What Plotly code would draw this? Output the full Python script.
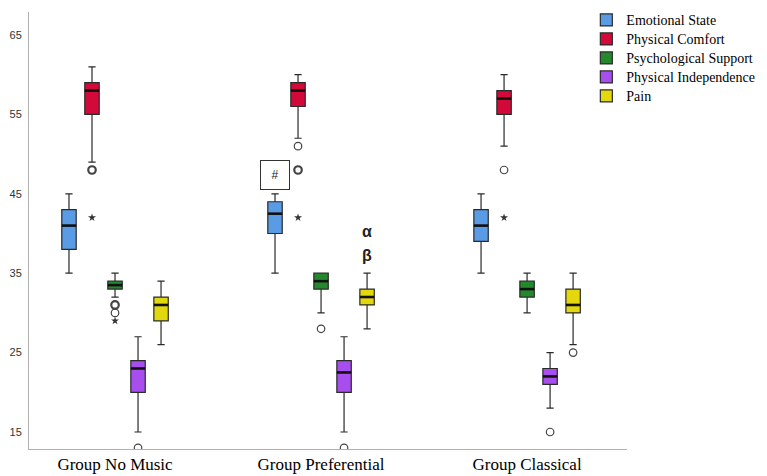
import plotly.graph_objects as go

groups = ["Group No Music", "Group Preferential", "Group Classical"]
series = ["Emotional State", "Physical Comfort", "Psychological Support",
          "Physical Independence", "Pain"]
colors = ["#5A9BE6", "#D3093A", "#24892C", "#A84EEE", "#E3D70E"]

# Emotional State
es_low = [35, 35, 35]
es_q1 = [38, 40, 39]
es_med = [41, 42.5, 41]
es_q3 = [43, 44, 43]
es_high = [45, 45, 45]
es_mild = [[], [], []]
es_extreme = [[], [], []]

# Physical Comfort
pc_low = [49, 52, 51]
pc_q1 = [55, 56, 55]
pc_med = [58, 58, 57]
pc_q3 = [59, 59, 58]
pc_high = [61, 60, 60]
pc_mild = [[48, 48], [51, 48, 48], [48]]
pc_extreme = [[42], [42], [42]]

# Psychological Support
ps_low = [32, 30, 30]
ps_q1 = [33, 33, 32]
ps_med = [33.5, 34, 33]
ps_q3 = [34, 35, 34]
ps_high = [35, 35, 35]
ps_mild = [[31, 31, 30], [28], []]
ps_extreme = [[29], [], []]

# Physical Independence
pi_low = [15, 15, 18]
pi_q1 = [20, 20, 21]
pi_med = [23, 22.5, 22]
pi_q3 = [24, 24, 23]
pi_high = [27, 27, 25]
pi_mild = [[13], [13], [15]]
pi_extreme = [[], [], []]

# Pain
pn_low = [26, 28, 26]
pn_q1 = [29, 31, 30]
pn_med = [31, 32, 31]
pn_q3 = [32, 33, 33]
pn_high = [34, 35, 35]
pn_mild = [[], [], [25]]
pn_extreme = [[], [], []]

y_ticks = [15, 25, 35, 45, 55, 65]

stats = [
    (es_low, es_q1, es_med, es_q3, es_high, es_mild, es_extreme),
    (pc_low, pc_q1, pc_med, pc_q3, pc_high, pc_mild, pc_extreme),
    (ps_low, ps_q1, ps_med, ps_q3, ps_high, ps_mild, ps_extreme),
    (pi_low, pi_q1, pi_med, pi_q3, pi_high, pi_mild, pi_extreme),
    (pn_low, pn_q1, pn_med, pn_q3, pn_high, pn_mild, pn_extreme),
]

step = 0.1117
bw = 0.07
gx = list(range(len(groups)))

fig = go.Figure()

for k, (name, col, st) in enumerate(zip(series, colors, stats)):
    low, q1, med, q3, high, mild, extreme = st
    off = (k - 2) * step
    xs = [g + off for g in gx]
    fig.add_trace(go.Box(
        name="<span style='font-size:14px'>" + name + "</span>",
        x=xs, lowerfence=low, q1=q1, median=med, q3=q3,
        upperfence=high, width=bw, whiskerwidth=0.5,
        fillcolor=col, line=dict(color="#2a2a2a", width=1.2),
        boxpoints=False, hoverinfo="skip", showlegend=True,
    ))
    # thick median lines
    mx, my = [], []
    for x0, m in zip(xs, med):
        mx += [x0 - bw / 2, x0 + bw / 2, None]
        my += [m, m, None]
    fig.add_trace(go.Scatter(x=mx, y=my, mode="lines",
                             line=dict(color="#111111", width=2.6),
                             showlegend=False, hoverinfo="skip"))
    # mild outliers (bold if several cases share a value)
    ox, oy, ow = [], [], []
    for x0, vals in zip(xs, mild):
        for v in sorted(set(vals)):
            ox.append(x0)
            oy.append(v)
            ow.append(2.2 if vals.count(v) > 1 else 1.2)
    if ox:
        fig.add_trace(go.Scatter(
            x=ox, y=oy, mode="markers", showlegend=False, hoverinfo="skip",
            marker=dict(symbol="circle-open", size=7.5, color="#444444",
                        line=dict(width=ow, color="#444444"))))
    ex, ey = [], []
    for x0, vals in zip(xs, extreme):
        for v in vals:
            ex.append(x0)
            ey.append(v)
    if ex:
        fig.add_trace(go.Scatter(
            x=ex, y=ey, mode="markers", showlegend=False, hoverinfo="skip",
            marker=dict(symbol="star", size=6, color="#333333")))

# annotations
fig.add_annotation(x=1 + (0 - 2) * step, y=es_high[1] + 2.4, text="#",
                   showarrow=False, font=dict(family="Liberation Sans", size=12, color="#222"),
                   bordercolor="#333", borderwidth=1, borderpad=0, width=28, height=28,
                   bgcolor="white")
fig.add_annotation(x=1 + (4 - 2) * step, y=pn_high[1] + 5.2, text="<b>α</b>",
                   showarrow=False, font=dict(family="Liberation Sans", size=16, color="#222"))
fig.add_annotation(x=1 + (4 - 2) * step, y=pn_high[1] + 2.2, text="<b>β</b>",
                   showarrow=False, font=dict(family="Liberation Sans", size=16, color="#222"))

fig.update_layout(
    width=759, height=468,
    margin=dict(l=21, r=140, t=4, b=27, autoexpand=False),
    plot_bgcolor="white", paper_bgcolor="white",
    legend=dict(x=0.932, y=1.015, xanchor="left", yanchor="top",
                font=dict(family="Liberation Serif", size=12, color="black"),
                bgcolor="rgba(0,0,0,0)", tracegroupgap=0),
)
fig.update_xaxes(range=[-0.4175, 2.485], tickvals=gx, ticktext=groups,
                 showgrid=False, zeroline=False, showline=True,
                 linecolor="#b0b0b0", linewidth=1, ticks="",
                 tickfont=dict(family="Liberation Serif", size=17, color="black"))
fig.update_yaxes(range=[12.86, 67.9], tickvals=y_ticks, showgrid=False,
                 zeroline=False, showline=True, linecolor="#b0b0b0", linewidth=1,
                 ticks="", ticklabelstandoff=4,
                 tickfont=dict(family="Liberation Sans", size=11, color="#333"))

fig.write_html("out.html")
